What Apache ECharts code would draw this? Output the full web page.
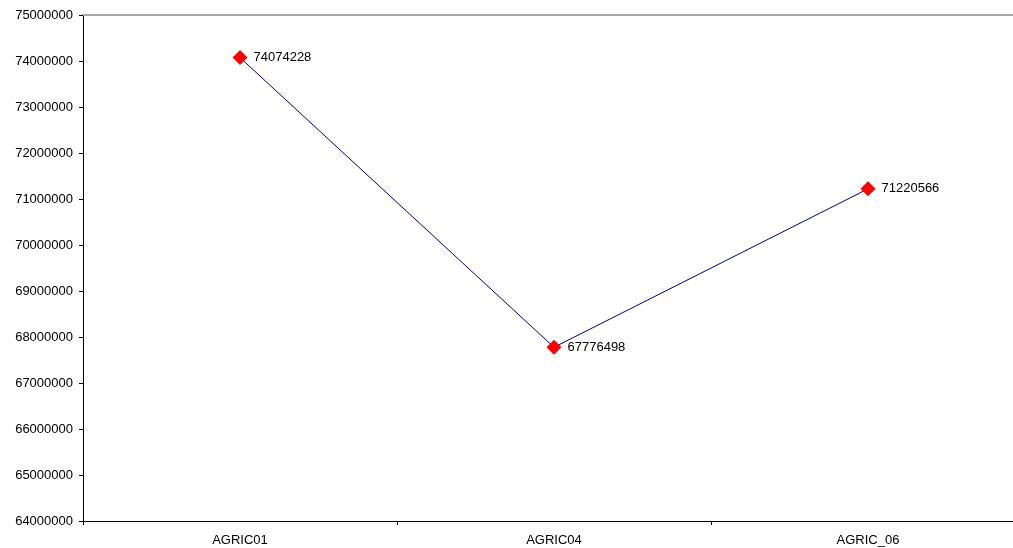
<!DOCTYPE html>
<html>
<head>
<meta charset="utf-8">
<script src="https://cdn.jsdelivr.net/npm/echarts@6/dist/echarts.min.js"></script>
<style>
  html, body { margin: 0; padding: 0; background: #fff; overflow: hidden; }
  #chart { width: 1025px; height: 548px; }
</style>
</head>
<body>
<div id="chart"></div>
<script>
const categories = ['AGRIC01', 'AGRIC04', 'AGRIC_06'];
const values = [74074228, 67776498, 71220566];
const yMin = 64000000;
const yMax = 75000000;
const yStep = 1000000;

const font = 'Liberation Sans, Arial';
const chart = echarts.init(document.getElementById('chart'));
chart.setOption({
  animation: false,
  backgroundColor: '#ffffff',
  grid: { left: 83, top: 15, bottom: 27, right: 0, containLabel: false },
  xAxis: [
    {
      type: 'category',
      data: categories,
      boundaryGap: true,
      axisLine: { lineStyle: { color: '#000', width: 1 } },
      axisTick: { show: true, inside: false, length: 4, lineStyle: { color: '#000' } },
      axisLabel: { color: '#000', fontFamily: font, fontSize: 13, margin: 13 },
      splitLine: { show: false }
    },
    {
      // plot-area top border
      type: 'category',
      position: 'top',
      data: categories,
      axisLine: { show: true, lineStyle: { color: '#a8a8a8', width: 2 } },
      axisTick: { show: false },
      axisLabel: { show: false },
      splitLine: { show: false }
    }
  ],
  yAxis: {
    type: 'value',
    min: yMin,
    max: yMax,
    interval: yStep,
    axisLine: { show: true, lineStyle: { color: '#000', width: 1 } },
    axisTick: { show: true, inside: false, length: 4, lineStyle: { color: '#000' } },
    axisLabel: {
      color: '#000', fontFamily: font, fontSize: 13, margin: 10,
      formatter: v => String(v)
    },
    splitLine: { show: false }
  },
  series: [{
    type: 'line',
    data: values,
    symbol: 'diamond',
    symbolSize: 15,
    itemStyle: { color: '#ff0000' },
    lineStyle: { color: '#000080', width: 1 },
    label: {
      show: true,
      position: 'right',
      distance: 6,
      color: '#000',
      fontFamily: font,
      fontSize: 13
    }
  }]
});
</script>
</body>
</html>
